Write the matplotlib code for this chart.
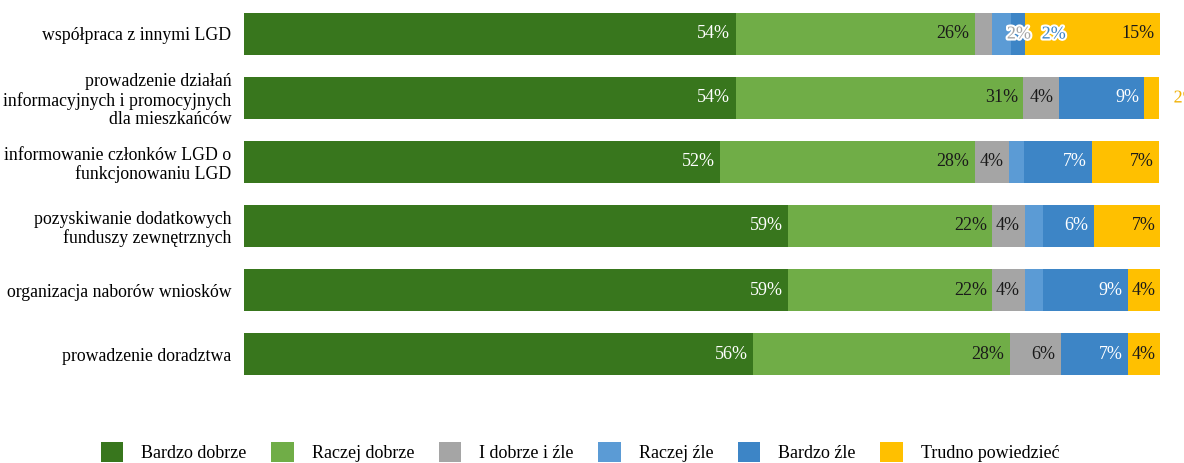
import matplotlib.pyplot as plt
import matplotlib.patheffects as pe
import numpy as np

plt.rcParams['font.family'] = ['Liberation Serif', 'DejaVu Serif']

categories = [
    "współpraca z innymi LGD",
    "prowadzenie działań\ninformacyjnych i promocyjnych\ndla mieszkańców",
    "informowanie członków LGD o\nfunkcjonowaniu LGD",
    "pozyskiwanie dodatkowych\nfunduszy zewnętrznych",
    "organizacja naborów wniosków",
    "prowadzenie doradztwa",
]
series = ["Bardzo dobrze", "Raczej dobrze", "I dobrze i źle",
          "Raczej źle", "Bardzo źle", "Trudno powiedzieć"]

# shares in %, per series (one value per category)
bardzo_dobrze = [53.7, 53.7, 52.0, 59.4, 59.4, 55.6]
raczej_dobrze = [26.1, 31.4, 27.8, 22.3, 22.3, 28.0]
dobrze_i_zle = [1.9, 3.9, 3.7, 3.6, 3.6, 5.6]
raczej_zle = [2.0, 0.0, 1.7, 1.9, 1.9, 0.0]
bardzo_zle = [1.6, 9.3, 7.4, 5.6, 9.3, 7.3]
trudno = [14.7, 1.6, 7.3, 7.3, 3.6, 3.6]

colors = ["#38761d", "#70ad47", "#a5a5a5", "#5b9bd5", "#3d85c6", "#ffc000"]
text_colors = ["white", "#1a1a1a", "#1a1a1a", "white", "white", "#1a1a1a"]

# small segments labelled outside the segment: (row, series, x position)
outside_labels = [(0, 2, 84.6), (0, 4, 88.4), (1, 5, 102.8)]

data = np.array([bardzo_dobrze, raczej_dobrze, dobrze_i_zle,
                 raczej_zle, bardzo_zle, trudno])

fig = plt.figure(figsize=(11.84, 4.63), dpi=100)
ax = fig.add_axes([0.206, 0.1663, 0.7737, 0.8294])

y = np.arange(len(categories))
left = np.zeros(len(categories))
for i, name in enumerate(series):
    vals = data[i]
    ax.barh(y, vals, left=left, height=0.656, color=colors[i], label=name)
    for r, v in enumerate(vals):
        if v >= 3:
            ax.text(left[r] + v - 0.6, y[r], f"{round(v)}%", ha="right", va="center",
                    color=text_colors[i], fontsize=13)
    left += vals

for r, s, xpos in outside_labels:
    c = colors[s] if s != 5 else "#f0b000"
    t = ax.text(xpos, y[r], f"{round(data[s][r])}%", ha="center", va="center",
                color=c, fontsize=13, clip_on=False)
    t.set_path_effects([pe.withStroke(linewidth=3, foreground="white")])

ax.set_xlim(0, 100)
ax.set_ylim(len(categories) - 0.5, -0.5)
ax.set_yticks(y)
ax.set_yticklabels(categories, fontsize=12.8, ha="right", linespacing=1.1)
ax.tick_params(axis="y", length=0, pad=9)
ax.set_xticks([])
for sp in ax.spines.values():
    sp.set_visible(False)

fig.legend(loc="center", bbox_to_anchor=(0.49, 0.024), ncol=6, frameon=False,
           fontsize=13, handlelength=1.25, handleheight=1.35, handletextpad=1.0,
           columnspacing=1.35)

fig.savefig("out.png", dpi=100)
